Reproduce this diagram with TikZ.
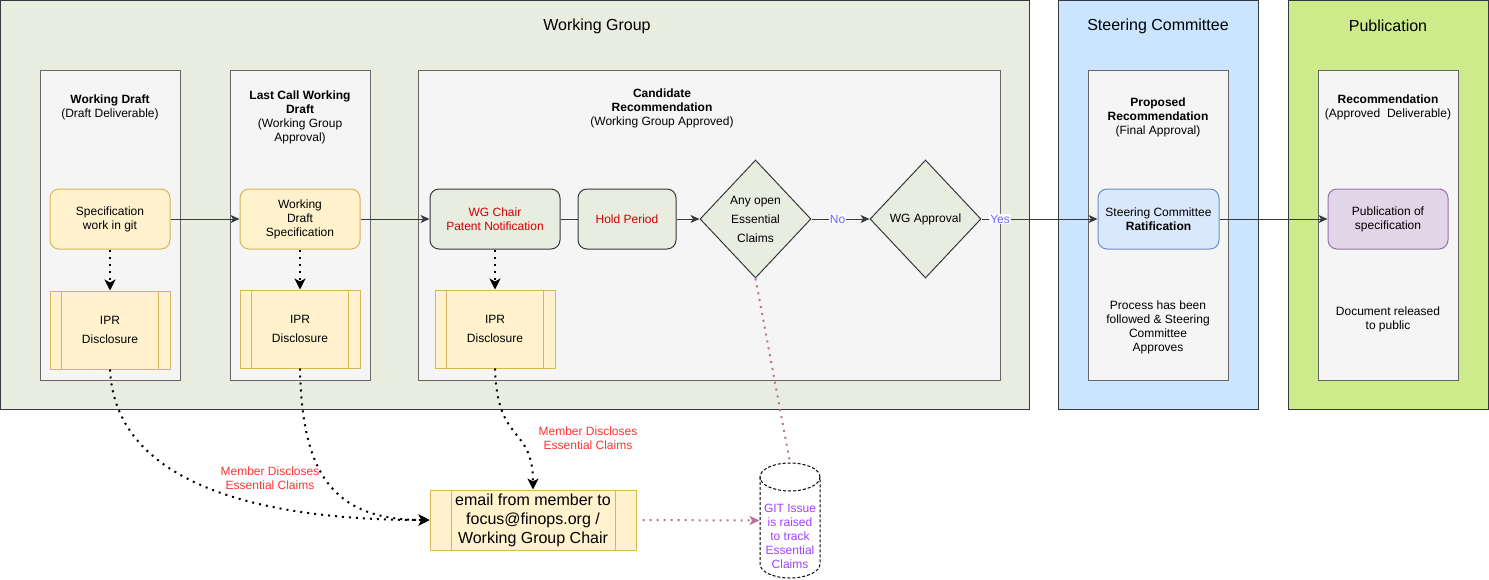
\documentclass[tikz,border=0pt]{standalone}
\usepackage{fontspec}
\setmainfont{Liberation Sans}
\usetikzlibrary{arrows.meta,shapes.geometric}
\definecolor{wgfill}{RGB}{233,237,224}
\definecolor{scfill}{RGB}{204,229,255}
\definecolor{pubfill}{RGB}{205,235,139}
\definecolor{phasefill}{RGB}{245,245,245}
\definecolor{phaseline}{RGB}{102,102,102}
\definecolor{yelfill}{RGB}{255,242,204}
\definecolor{yelline}{RGB}{214,182,86}
\definecolor{bluefill}{RGB}{218,232,252}
\definecolor{blueline}{RGB}{108,142,191}
\definecolor{purfill}{RGB}{225,213,231}
\definecolor{purline}{RGB}{150,115,166}
\definecolor{darkline}{RGB}{54,57,61}
\definecolor{redtext}{RGB}{204,0,0}
\definecolor{claimred}{RGB}{255,51,51}
\definecolor{gitpurple}{RGB}{160,64,255}
\definecolor{pinkline}{RGB}{181,115,157}
\definecolor{labelblue}{RGB}{102,102,255}
\begin{document}
\begin{tikzpicture}[x=1pt,y=-1pt,line width=1pt,
		lane/.style={draw=darkline, minimum width=200pt, minimum height=409pt, inner sep=0pt},
		phase/.style={draw=phaseline, fill=phasefill, minimum width=140pt, minimum height=310pt, inner sep=0pt},
		txt/.style={font=\fontsize{12}{14}\selectfont, align=center, inner sep=0pt},
		title/.style={font=\fontsize{16}{19}\selectfont, inner sep=0pt},
		work/.style={txt, draw=yelline, fill=yelfill, rounded corners=9pt, minimum width=120pt, minimum height=60pt},
		ipr/.style={txt, draw=yelline, fill=yelfill, minimum width=120pt, minimum height=78pt, font=\fontsize{12}{19}\selectfont},
		gate/.style={txt, draw=darkline, fill=wgfill, rounded corners=9pt, minimum height=60pt, text=redtext},
		decide/.style={diamond, txt, draw=darkline, fill=wgfill, minimum width=111pt, minimum height=118pt, font=\fontsize{12}{19}\selectfont},
		arrow/.style={draw=darkline, -{Stealth[length=9pt,width=8pt,inset=2.5pt]}},
		dotarrow/.style={line width=2pt, dash pattern=on 2pt off 5pt, -{Stealth[length=11pt,width=11pt,inset=3pt]}},
		pinkdot/.style={draw=pinkline, line width=2pt, dash pattern=on 2pt off 5pt},
		yn/.style={txt, fill=white, text=labelblue, inner sep=1pt},
		claim/.style={txt, text=claimred}]
	\useasboundingbox (0,0) rectangle (1489,579);
	% lanes
	\node[lane, fill=wgfill, minimum width=1029pt] (wg) at (515,205) {};
	\node[lane, fill=scfill] (sc) at (1158,205) {};
	\node[lane, fill=pubfill] (pub) at (1388,205) {};
	\node[title] (wgtitle) at (597,26) {Working Group};
	\node[title] (sctitle) at (1158,26) {Steering Committee};
	\node[title] (pubtitle) at (1388,26) {Publication};
	% phases
	\node[phase] (wd) at (110,225) {};
	\node[phase] (lc) at (300,225) {};
	\node[phase, minimum width=582pt] (cand) at (709,225) {};
	\node[phase] (prop) at (1158,225) {};
	\node[phase] (rec) at (1388,225) {};
	\node[txt] (wdhead) at (110,107) {\textbf{Working Draft}\\(Draft Deliverable)};
	\node[txt] (lchead) at (300,117) {\textbf{Last Call Working}\\\textbf{Draft}\\(Working Group\\Approval)};
	\node[txt] (candhead) at (662,108) {\textbf{Candidate}\\\textbf{Recommendation}\\(Working Group Approved)};
	\node[txt] (prophead) at (1158,117) {\textbf{Proposed}\\\textbf{Recommendation}\\(Final Approval)};
	\node[txt] (rechead) at (1388,107) {\textbf{Recommendation}\\(Approved\ \ Deliverable)};
	\node[txt] (propnote) at (1158,327) {Process has been\\followed \& Steering\\Committee\\Approves};
	\node[txt] (recnote) at (1388,319) {Document released\\to public};
	% steps
	\node[work] (spec) at (110,219) {Specification\\work in git};
	\node[work] (wdspec) at (300,219) {Working\\Draft\\Specification};
	\node[ipr] (ipr1) at (110,330) {IPR\\Disclosure};
	\node[ipr] (ipr2) at (300,329) {IPR\\Disclosure};
	\node[ipr] (ipr3) at (495,329) {IPR\\Disclosure};
	\node[gate, minimum width=130pt] (chair) at (495,219) {WG Chair\\Patent Notification};
	\node[gate, minimum width=98pt] (hold) at (627,219) {Hold Period};
	\node[decide] (claims) at (755.5,219) {Any open\\Essential\\Claims};
	\node[decide] (wgok) at (925.5,219) {WG Approval};
	\node[work, draw=blueline, fill=bluefill, minimum width=121pt] (ratify) at (1158.5,219) {Steering Committee\\\textbf{Ratification}};
	\node[work, draw=purline, fill=purfill] (publish) at (1388,219) {Publication of\\specification};
	\node[ipr, minimum width=206pt, minimum height=60pt, font=\fontsize{16}{19}\selectfont] (email) at (533,520) {email from member to\\focus@finops.org /\\Working Group Chair};
	\foreach \n in {ipr1,ipr2,ipr3}
		\draw[yelline] ([xshift=12pt]\n.north west) -- ([xshift=12pt]\n.south west)
			([xshift=-12pt]\n.north east) -- ([xshift=-12pt]\n.south east);
	\draw[yelline] ([xshift=22pt]email.north west) -- ([xshift=22pt]email.south west)
		([xshift=-21pt]email.north east) -- ([xshift=-21pt]email.south east);
	% git issue
	\node[minimum width=60pt, minimum height=115pt, inner sep=0pt] (git) at (790,520.5) {};
	\draw[dash pattern=on 3pt off 2pt] (760,477) -- (760,564) arc[start angle=180, end angle=360, x radius=30pt, y radius=14pt] -- (820,477);
	\draw[dash pattern=on 3pt off 2pt] (790,477) ellipse[x radius=30pt, y radius=14pt];
	\node[txt, text=gitpurple] (gitnote) at (790,536) {GIT Issue\\is raised\\to track\\Essential\\Claims};
	\node[claim] (claim1) at (270,478) {Member Discloses\\Essential Claims};
	\node[claim] (claim2) at (588,438) {Member Discloses\\Essential Claims};
	% flow
	\draw[arrow] (spec.east) -- (wdspec.west);
	\draw[arrow] (wdspec.east) -- (chair.west);
	\draw[darkline] (chair.east) -- (hold.west);
	\draw[arrow] (hold.east) -- (claims.west);
	\draw[arrow] (claims.east) -- node[yn, pos=.45] {No} (wgok.west);
	\draw[arrow] (wgok.east) -- node[yn, pos=.16] {Yes} (ratify.west);
	\draw[arrow] (ratify.east) -- (publish.west);
	% disclosures
	\draw[dotarrow] (spec.south) -- (ipr1.north);
	\draw[dotarrow] (wdspec.south) -- (ipr2.north);
	\draw[dotarrow] (chair.south) -- (ipr3.north);
	\draw[dotarrow] (ipr1.south) .. controls (115,480) and (250,520) .. (email.west);
	\draw[dotarrow] (ipr2.south) .. controls (302,470) and (330,520) .. (email.west);
	\draw[dotarrow] (ipr3.south) .. controls (497,445) and (533,425) .. (email.north);
	\draw[pinkdot] (claims.south) -- (git.north);
	\draw[pinkdot, -{Stealth[length=10pt,width=9pt,inset=2.5pt]}] ([xshift=6pt]email.east) -- (git.west);
\end{tikzpicture}
\end{document}
